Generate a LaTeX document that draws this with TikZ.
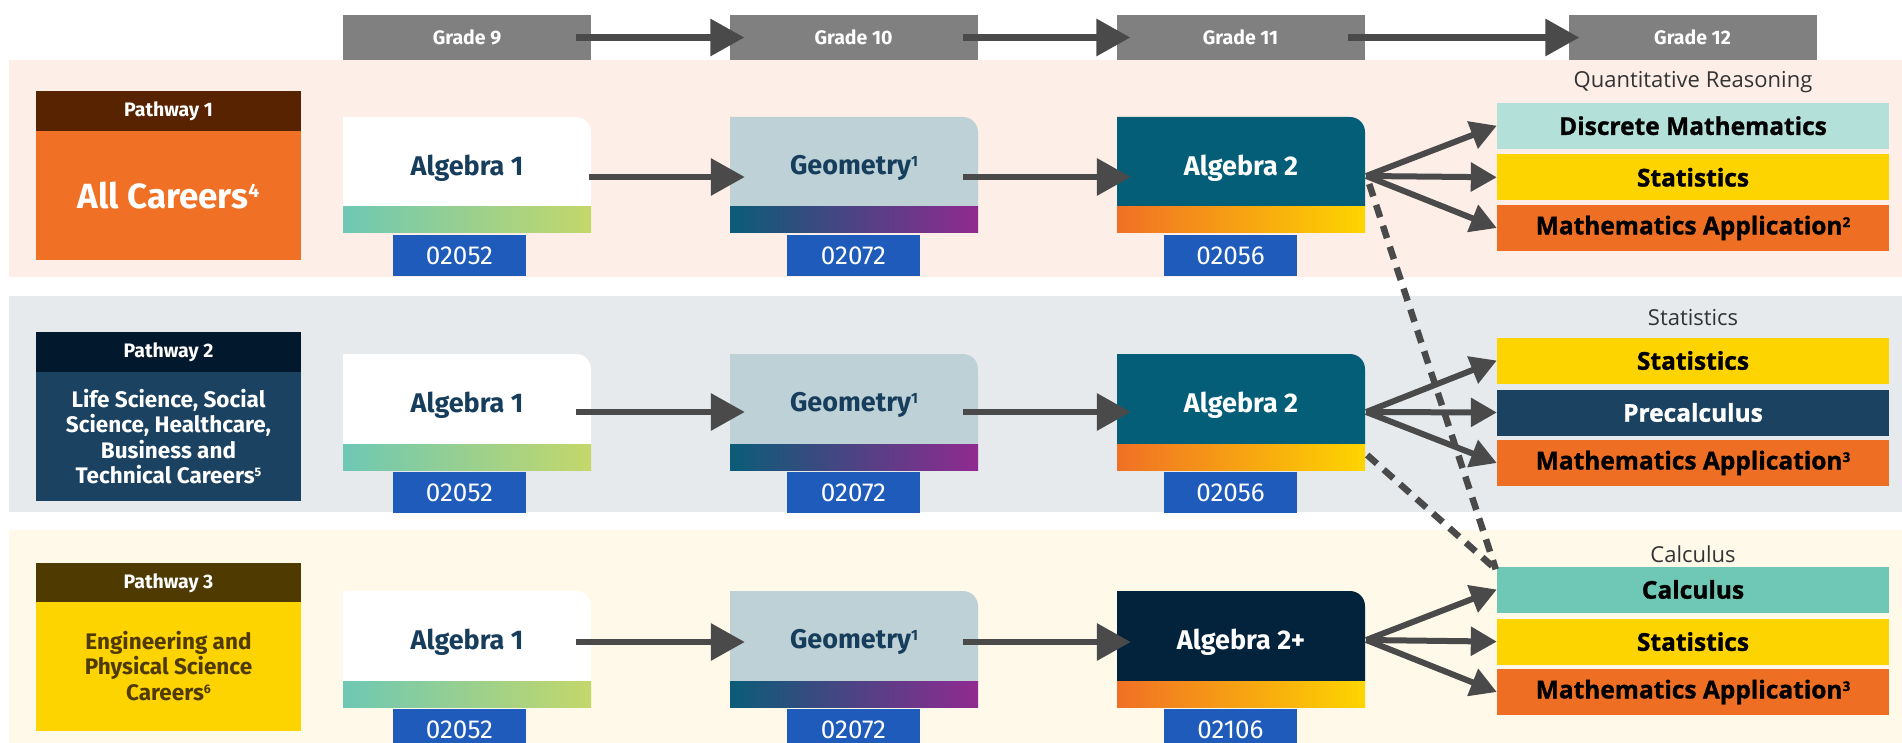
\documentclass[tikz,border=0pt]{standalone}
\usepackage{fontspec}
\setmainfont{Fira Sans}
\newfontfamily\osans{Open Sans}[BoldFeatures={FakeBold=1.2}]
\usetikzlibrary{arrows.meta}
\definecolor{hdr}{HTML}{808080}
\definecolor{arr}{HTML}{4A4A4A}
\definecolor{bandA}{HTML}{FDEEE7}
\definecolor{bandB}{HTML}{E6EAED}
\definecolor{bandC}{HTML}{FEF9E8}
\definecolor{pAh}{HTML}{582300}
\definecolor{pAb}{HTML}{F07125}
\definecolor{pBh}{HTML}{02182C}
\definecolor{pBb}{HTML}{1B4260}
\definecolor{pCh}{HTML}{4F3A02}
\definecolor{pCb}{HTML}{FDD400}
\definecolor{navytxt}{HTML}{173D5C}
\definecolor{gAl}{HTML}{6EC8B4}
\definecolor{gAr}{HTML}{C4D76A}
\definecolor{geofill}{HTML}{BDD1D6}
\definecolor{gBl}{HTML}{0B5C78}
\definecolor{gBr}{HTML}{902A90}
\definecolor{algfill}{HTML}{045E78}
\definecolor{algpfill}{HTML}{03223B}
\definecolor{gCl}{HTML}{F07025}
\definecolor{gCr}{HTML}{FDD500}
\definecolor{codeblue}{HTML}{1E5BBA}
\definecolor{discfill}{HTML}{B4E0DA}
\definecolor{statfill}{HTML}{FDD400}
\definecolor{appfill}{HTML}{EE6F24}
\definecolor{precfill}{HTML}{1B4260}
\definecolor{calcfill}{HTML}{6FC8B6}
\definecolor{subtxt}{HTML}{333333}
\newcommand\crs[8]{%
  \fill[#4] ({#2},{-#3-90}) -- ({#2},{-#3}) -- ({#2+233},{-#3}) arc[start angle=90,end angle=0,radius=15pt] -- ({#2+248},{-#3-90}) -- cycle;
  \shade[left color=#5,right color=#6] ({#2},{-#3-90}) rectangle ({#2+248},{-#3-116});
  \node[coursetxt, text=#7] (#1) at ({#2+124},{-#3-51}) {#8};
}
\newcommand\ccode[4]{%
  \node[codebox] (#1) at ({#2+66.5},{-#3-138.5}) {#4};
}
\newcommand\sps[1]{\raisebox{0.3em}{\scalebox{0.55}{#1}}}
\tikzset{
  grade/.style={fill=hdr, text=white, font=\bfseries\fontsize{19.5}{22}\selectfont, minimum width=248pt, minimum height=45pt, inner sep=0pt},
  coursetxt/.style={minimum width=248pt, minimum height=60pt, inner sep=0pt, font=\bfseries\fontsize{27}{30}\selectfont},
  codebox/.style={fill=codeblue, text=white, minimum width=133pt, minimum height=41pt, inner sep=0pt, font=\fontsize{26}{28}\selectfont},
  phead/.style={minimum width=265pt, minimum height=40pt, inner sep=0pt, text=white, font=\bfseries\fontsize{19.5}{22}\selectfont},
  pbody/.style={minimum width=265pt, minimum height=129pt, inner sep=0pt, align=center, font=\bfseries\fontsize{22.5}{25.5}\selectfont},
  gbox/.style={minimum width=392pt, minimum height=46pt, inner sep=0pt, font=\osans\bfseries\fontsize{24.5}{28}\selectfont},
  subl/.style={text=subtxt, inner sep=0pt, font=\osans\fontsize{22}{25}\selectfont},
  flow/.style={draw=arr, line width=6.5pt, -{Triangle[length=34pt,width=36pt]}},
  fan/.style={draw=arr, line width=6pt, -{Triangle[length=26pt,width=28pt]}},
  dline/.style={draw=arr, line width=6.5pt, dash pattern=on 13pt off 9pt}
}
\begin{document}
\begin{tikzpicture}[x=1pt,y=1pt]
\useasboundingbox (0,0) rectangle (1902,-743);
\clip (0,0) rectangle (1902,-743);
\fill[white] (0,0) rectangle (1902,-743);
% bands
\fill[bandA] (8.5,-60) rectangle (1902,-277);
\fill[bandB] (8.5,-296) rectangle (1902,-512);
\fill[bandC] (8.5,-530) rectangle (1902,-743);
% grade headers
\node[grade] (g9) at (467,-37.5) {Grade 9};
\node[grade] (g10) at (853.5,-37.5) {Grade 10};
\node[grade] (g11) at (1240.5,-37.5) {Grade 11};
\node[grade] (g12) at (1692.5,-37.5) {\raisebox{-5pt}{Grade 12}};
\draw[flow] ([xshift=-15pt]g9.east) -- ([xshift=15pt]g10.west);
\draw[flow] ([xshift=-15pt]g10.east) -- ([xshift=14pt]g11.west);
\draw[flow] ([xshift=-17pt]g11.east) -- ([xshift=11pt]g12.west);
% pathways
\node[phead, fill=pAh] (p1h) at (168.5,-111.5) {Pathway 1};
\node[pbody, fill=pAb, text=white, font=\bfseries\fontsize{35}{40}\selectfont] (p1b) at (168.5,-195.5) {All Careers\sps{4}};
\node[phead, fill=pBh] (p2h) at (168.5,-352) {Pathway 2};
\node[pbody, fill=pBb, text=white] (p2b) at (168.5,-436.5) {Life Science, Social\\Science, Healthcare,\\Business and\\Technical Careers\sps{5}};
\node[phead, fill=pCh] (p3h) at (168.5,-583) {Pathway 3};
\node[pbody, fill=pCb, text=pCh] (p3b) at (168.5,-666) {Engineering and\\Physical Science\\Careers\sps{6}};
% row 1
\crs{a1r1}{343}{117}{white}{gAl}{gAr}{navytxt}{Algebra 1}
\crs{geo1}{730}{117}{geofill}{gBl}{gBr}{navytxt}{Geometry\sps{1}}
\crs{a2r1}{1117}{117}{algfill}{gCl}{gCr}{white}{Algebra 2}
\ccode{c11}{393}{117}{02052}
\ccode{c12}{787}{117}{02072}
\ccode{c13}{1164}{117}{02056}
% row 2
\crs{a1r2}{343}{354}{white}{gAl}{gAr}{navytxt}{Algebra 1}
\crs{geo2}{730}{354}{geofill}{gBl}{gBr}{navytxt}{Geometry\sps{1}}
\crs{a2r2}{1117}{354}{algfill}{gCl}{gCr}{white}{Algebra 2}
\ccode{c21}{393}{354}{02052}
\ccode{c22}{787}{354}{02072}
\ccode{c23}{1164}{354}{02056}
% row 3
\crs{a1r3}{343}{591}{white}{gAl}{gAr}{navytxt}{Algebra 1}
\crs{geo3}{730}{591}{geofill}{gBl}{gBr}{navytxt}{Geometry\sps{1}}
\crs{a2r3}{1117}{591}{algpfill}{gCl}{gCr}{white}{Algebra 2+}
\ccode{c31}{393}{591}{02052}
\ccode{c32}{787}{591}{02072}
\ccode{c33}{1164}{591}{02106}
% grade 12 options
\node[subl] (s1) at (1693,-82) {Quantitative Reasoning};
\node[gbox, fill=discfill] (dm1) at (1693,-125.7) {Discrete Mathematics};
\node[gbox, fill=statfill] (st1) at (1693,-177.3) {Statistics};
\node[gbox, fill=appfill] (ma1) at (1693,-228) {Mathematics Application\sps{2}};
\node[subl] (s2) at (1693,-318) {Statistics};
\node[gbox, fill=statfill] (st2) at (1693,-360.5) {Statistics};
\node[gbox, fill=precfill, text=white] (pc2) at (1693,-412.5) {Precalculus};
\node[gbox, fill=appfill] (ma2) at (1693,-463) {Mathematics Application\sps{3}};
\node[subl] (s3) at (1693,-554) {Calculus};
\node[gbox, fill=calcfill] (ca3) at (1693,-589.5) {Calculus};
\node[gbox, fill=statfill] (st3) at (1693,-641.6) {Statistics};
\node[gbox, fill=appfill] (ma3) at (1693,-692) {Mathematics Application\sps{3}};
% course arrows
\draw[flow] ([xshift=-2pt,yshift=-9pt]a1r1.east) -- ([xshift=15pt,yshift=-9pt]geo1.west);
\draw[flow] ([xshift=-15pt,yshift=-9pt]geo1.east) -- ([xshift=14pt,yshift=-9pt]a2r1.west);
\draw[flow] ([xshift=-15pt,yshift=-7pt]a1r2.east) -- ([xshift=15pt,yshift=-7pt]geo2.west);
\draw[flow] ([xshift=-15pt,yshift=-7pt]geo2.east) -- ([xshift=14pt,yshift=-7pt]a2r2.west);
\draw[flow] ([xshift=-15pt]a1r3.east) -- ([xshift=15pt]geo3.west);
\draw[flow] ([xshift=-15pt]geo3.east) -- ([xshift=14pt]a2r3.west);
% fans
\draw[fan] ([xshift=1pt,yshift=-8pt]a2r1.east) -- (dm1.west);
\draw[fan] ([xshift=1pt,yshift=-8pt]a2r1.east) -- (st1.west);
\draw[fan] ([xshift=1pt,yshift=-8pt]a2r1.east) -- (ma1.west);
\draw[fan] ([xshift=1pt,yshift=-7pt]a2r2.east) -- (st2.west);
\draw[fan] ([xshift=1pt,yshift=-7pt]a2r2.east) -- (pc2.west);
\draw[fan] ([xshift=1pt,yshift=-7pt]a2r2.east) -- (ma2.west);
\draw[fan] ([xshift=1pt,yshift=2pt]a2r3.east) -- (ca3.west);
\draw[fan] ([xshift=1pt,yshift=2pt]a2r3.east) -- (st3.west);
\draw[fan] ([xshift=1pt,yshift=2pt]a2r3.east) -- (ma3.west);
% dashed links
\draw[dline] ([xshift=4pt,yshift=-16pt]a2r1.east) -- ([xshift=-1pt,yshift=-3pt]ca3.north west);
\draw[dline] ([xshift=2pt,yshift=-50pt]a2r2.east) -- ([xshift=-1pt,yshift=-3pt]ca3.north west);
\end{tikzpicture}
\end{document}
